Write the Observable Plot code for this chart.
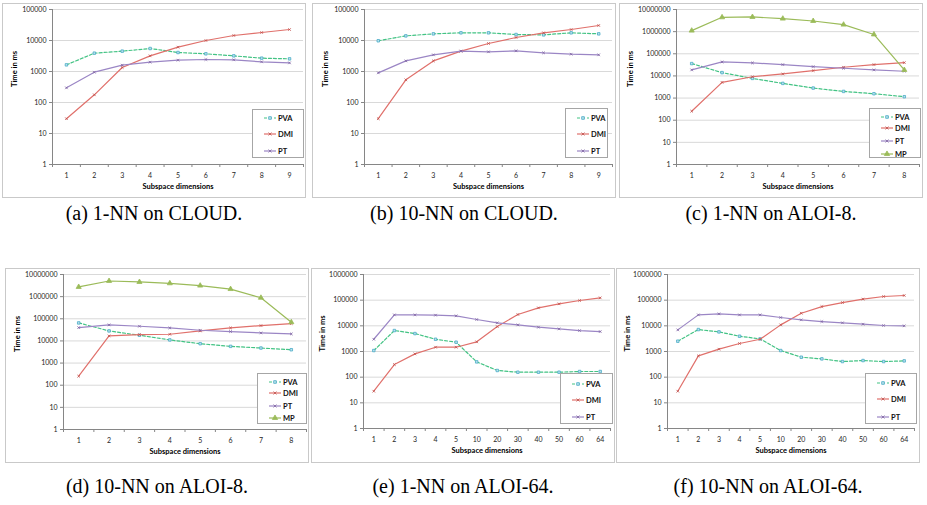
<!DOCTYPE html>
<html><head><meta charset="utf-8">
<script src="https://cdn.jsdelivr.net/npm/d3@7"></script>
<script src="https://cdn.jsdelivr.net/npm/@observablehq/plot@0.6"></script>
<style>
body{margin:0;background:#fff;width:927px;height:505px;position:relative;overflow:hidden;font-family:Lato,"Open Sans",sans-serif}
.panel{position:absolute}
.panel svg{display:block;outline:1px solid #c9c9c9;outline-offset:-1px;background:#fff}
.cap{position:absolute;width:320px;text-align:center;font-family:"Liberation Serif",serif;font-size:20px;line-height:22px;color:#000;white-space:nowrap}
.leg{position:absolute;border:1px solid #a6a6a6;background:#fff;box-sizing:border-box}
.leg svg{position:absolute;left:0;top:0;overflow:visible}
</style></head><body>
<script>
// ---------- data ----------
const dimsCloud = ["1","2","3","4","5","6","7","8","9"];
const dimsAloi8 = ["1","2","3","4","5","6","7","8"];
const dimsAloi64 = ["1","2","3","4","5","10","20","30","40","50","60","64"];

const yTicks5 = [1,10,100,1000,10000,100000];
const yTicks6 = [1,10,100,1000,10000,100000,1000000];
const yTicks7 = [1,10,100,1000,10000,100000,1000000,10000000];

const seriesNames3 = ["PVA","DMI","PT"];
const seriesNames4 = ["PVA","DMI","PT","MP"];

// (a) 1-NN on CLOUD
const a_PVA = [1640,3900,4530,5520,4100,3720,3200,2690,2560];
const a_DMI = [30,177,1350,3200,6100,10000,14500,18100,22600];
const a_PT  = [297,950,1600,2000,2320,2440,2380,2050,1900];
// (b) 10-NN on CLOUD
const b_PVA = [9800,14100,16400,17700,17700,15600,15200,17700,16400];
const b_DMI = [30,538,2200,4530,8000,12500,17700,22600,30500];
const b_PT  = [905,2200,3450,4530,4310,4640,4000,3620,3450];
// (c) 1-NN on ALOI-8
const c_PVA = [36100,14100,7730,4600,2830,2000,1570,1150];
const c_DMI = [255,5100,9200,12300,17400,24700,32500,40000];
const c_PT  = [18700,42800,38700,32500,26400,22200,18700,16300];
const c_MP  = [1110000,4440000,4600000,3870000,3030000,2070000,747000,18600];
// (d) 10-NN on ALOI-8
const d_PVA = [65000,28300,18000,11100,7500,5680,4780,4000];
const d_DMI = [255,16800,19300,20000,28300,38700,49400,60900];
const d_PT  = [40000,53000,46100,38700,30400,26500,23000,20700];
const d_MP  = [2740000,5100000,4600000,4000000,3150000,2200000,890000,70000];
// (e) 1-NN on ALOI-64
const e_PVA = [1090,6550,5000,3000,2300,394,182,156,156,156,166,166];
const e_DMI = [28.4,310,806,1470,1470,2380,9330,27600,50000,71900,97000,123000];
const e_PT  = [3000,26700,26700,26000,24500,17600,13100,10900,8830,7590,6550,5990];
// (f) 10-NN on ALOI-64
const f_PVA = [2520,7160,5810,3940,3100,1090,598,516,406,444,406,431];
const f_DMI = [28.4,675,1230,2050,3000,10900,31000,56300,80700,110000,139000,152000];
const f_PT  = [6950,26700,29300,26700,26700,21100,17100,14700,13100,11600,10300,10000];

const captions = ["(a) 1-NN on CLOUD.","(b) 10-NN on CLOUD.","(c) 1-NN on ALOI-8.","(d) 10-NN on ALOI-8.","(e) 1-NN on ALOI-64.","(f) 10-NN on ALOI-64."];
const xTitle = "Subspace dimensions";
const yTitle = "Time in ms";

// ---------- styles ----------
const styles = {
  PVA: {stroke:"#43c384", dash:"3,2", symbol:"square", r:1.4, fill:"#bfe3ef", mstroke:"#4aacc6"},
  DMI: {stroke:"#e0706b", dash:null, symbol:"times", r:1.3, fill:"none", mstroke:"#c0504d"},
  PT:  {stroke:"#9b86c5", dash:null, symbol:"times", r:1.3, fill:"none", mstroke:"#8064a2"},
  MP:  {stroke:"#9bbb59", dash:null, symbol:"triangle", r:1.9, fill:"#9bbb59", mstroke:"#9bbb59"}
};

// ---------- layout ----------
const panels = [
  {cats:dimsCloud, ticks:yTicks5, names:seriesNames3, vals:[a_PVA,a_DMI,a_PT], left:2, top:3, w:304, h:195, mL:50, mR:3, mT:6, mB:34, ytx:14,
   leg:{x:252,y:109,w:52,h:49,rows:[8,24,41]}, cap:0, capDy:4},
  {cats:dimsCloud, ticks:yTicks5, names:seriesNames3, vals:[b_PVA,b_DMI,b_PT], left:312, top:3, w:304, h:195, mL:52, mR:4, mT:6, mB:34, ytx:325,
   leg:{x:565,y:108,w:43,h:50,rows:[9,25,42]}, cap:1, capDy:4},
  {cats:dimsAloi8, ticks:yTicks7, names:seriesNames4, vals:[c_PVA,c_DMI,c_PT,c_MP], left:619, top:3, w:304, h:195, mL:57, mR:4, mT:6, mB:34, ytx:630,
   leg:{x:869,y:108,w:52,h:50,rows:[8,19,32,45]}, cap:2, capDy:4},
  {cats:dimsAloi8, ticks:yTicks7, names:seriesNames4, vals:[d_PVA,d_DMI,d_PT,d_MP], left:5, top:268, w:304, h:195, mL:58, mR:3, mT:6, mB:34, ytx:17,
   leg:{x:257,y:373,w:50,h:51,rows:[8,19,32,44]}, cap:3, capDy:12},
  {cats:dimsAloi64, ticks:yTicks6, names:seriesNames3, vals:[e_PVA,e_DMI,e_PT], left:311, top:268, w:304, h:195, mL:52, mR:5, mT:6, mB:35, ytx:322,
   leg:{x:560,y:373,w:53,h:51,rows:[10,26,43]}, cap:4, capDy:12},
  {cats:dimsAloi64, ticks:yTicks6, names:seriesNames3, vals:[f_PVA,f_DMI,f_PT], left:616, top:268, w:304, h:195, mL:51, mR:6, mT:6, mB:35, ytx:627,
   leg:{x:865,y:373,w:52,h:51,rows:[9,25,43]}, cap:5, capDy:12}
];

function makePanel(p) {
  const n = p.cats.length;
  const idx = d3.range(n);
  const marks = [
    Plot.gridY(p.ticks.slice(1), {stroke:"#d9d9d9", strokeOpacity:1, strokeWidth:1}),
    Plot.axisY({ticks:p.ticks, tickFormat:d3.format("d"), tickSize:3, tickPadding:3, label:null, stroke:"#868686", fill:"#262626", fontSize:7}),
    Plot.axisX({ticks:d3.range(n+1), tickSize:3, tickFormat:() => "", label:null, stroke:"#868686"}),
    Plot.axisX({ticks:idx.map(i => i + 0.5), tickSize:0, tickPadding:9, tickFormat:d => p.cats[Math.floor(d)], label:null, fill:"#262626", fontSize:7}),
    Plot.ruleY([p.ticks[0]], {stroke:"#868686"}),
    Plot.ruleX([0], {stroke:"#868686"}),
    Plot.text([xTitle], {text:d => d, frameAnchor:"bottom", dy:24, fontWeight:"bold", fontSize:7.5, fill:"#000"}),
    Plot.text([yTitle], {text:d => d, frameAnchor:"left", rotate:-90, dx:(p.ytx - p.left) - p.mL, fontWeight:"bold", fontSize:7.5, fill:"#000"})
  ];
  p.names.forEach((name, k) => {
    const s = styles[name];
    const vals = p.vals[k];
    marks.push(Plot.line(vals, {x:(d, i) => i + 0.5, y:d => d, stroke:s.stroke, strokeWidth:1.2, strokeDasharray:s.dash || undefined}));
    marks.push(Plot.dot(vals, {x:(d, i) => i + 0.5, y:d => d, symbol:s.symbol, r:s.r, fill:s.fill, stroke:s.mstroke, strokeWidth:0.8}));
  });
  const chart = Plot.plot({
    width:p.w, height:p.h,
    marginLeft:p.mL, marginRight:p.mR, marginTop:p.mT, marginBottom:p.mB,
    style:{fontFamily:"Lato, 'Open Sans', sans-serif", fontSize:"7px", background:"#fff"},
    x:{domain:[0, n]},
    y:{type:"log", domain:[p.ticks[0], p.ticks[p.ticks.length - 1]]},
    marks
  });
  const div = document.createElement("div");
  div.className = "panel";
  div.style.left = p.left + "px";
  div.style.top = p.top + "px";
  div.appendChild(chart);
  document.body.appendChild(div);

  // legend
  const L = p.leg;
  const lg = document.createElement("div");
  lg.className = "leg";
  Object.assign(lg.style, {left:L.x + "px", top:L.y + "px", width:L.w + "px", height:L.h + "px"});
  const svg = d3.create("svg").attr("width", L.w).attr("height", L.h);
  p.names.forEach((name, k) => {
    const s = styles[name];
    const y = L.rows[k];
    const x0 = 11, x1 = 23;
    svg.append("line").attr("x1", x0).attr("x2", x1).attr("y1", y).attr("y2", y)
      .attr("stroke", s.stroke).attr("stroke-width", 1.2).attr("stroke-dasharray", s.dash);
    svg.append("path").attr("transform", `translate(${(x0 + x1) / 2},${y})`)
      .attr("d", d3.symbol(s.symbol === "square" ? d3.symbolSquare : s.symbol === "triangle" ? d3.symbolTriangle : d3.symbolTimes, s.symbol === "triangle" ? 12 : 7)())
      .attr("fill", s.fill).attr("stroke", s.mstroke).attr("stroke-width", 0.8);
    svg.append("text").attr("x", x1 + 2).attr("y", y).attr("dy", "0.35em")
      .attr("font-size", 7.5).attr("font-weight", "bold").attr("font-family", "Lato, sans-serif").attr("fill", "#111").text(name);
  });
  lg.appendChild(svg.node());
  document.body.appendChild(lg);

  // caption
  const cap = document.createElement("div");
  cap.className = "cap";
  cap.textContent = captions[p.cap];
  cap.style.left = (p.left + p.w / 2 - 160) + "px";
  cap.style.top = (p.top + p.h + p.capDy) + "px";
  document.body.appendChild(cap);
}
panels.forEach(makePanel);
</script>
</body></html>
